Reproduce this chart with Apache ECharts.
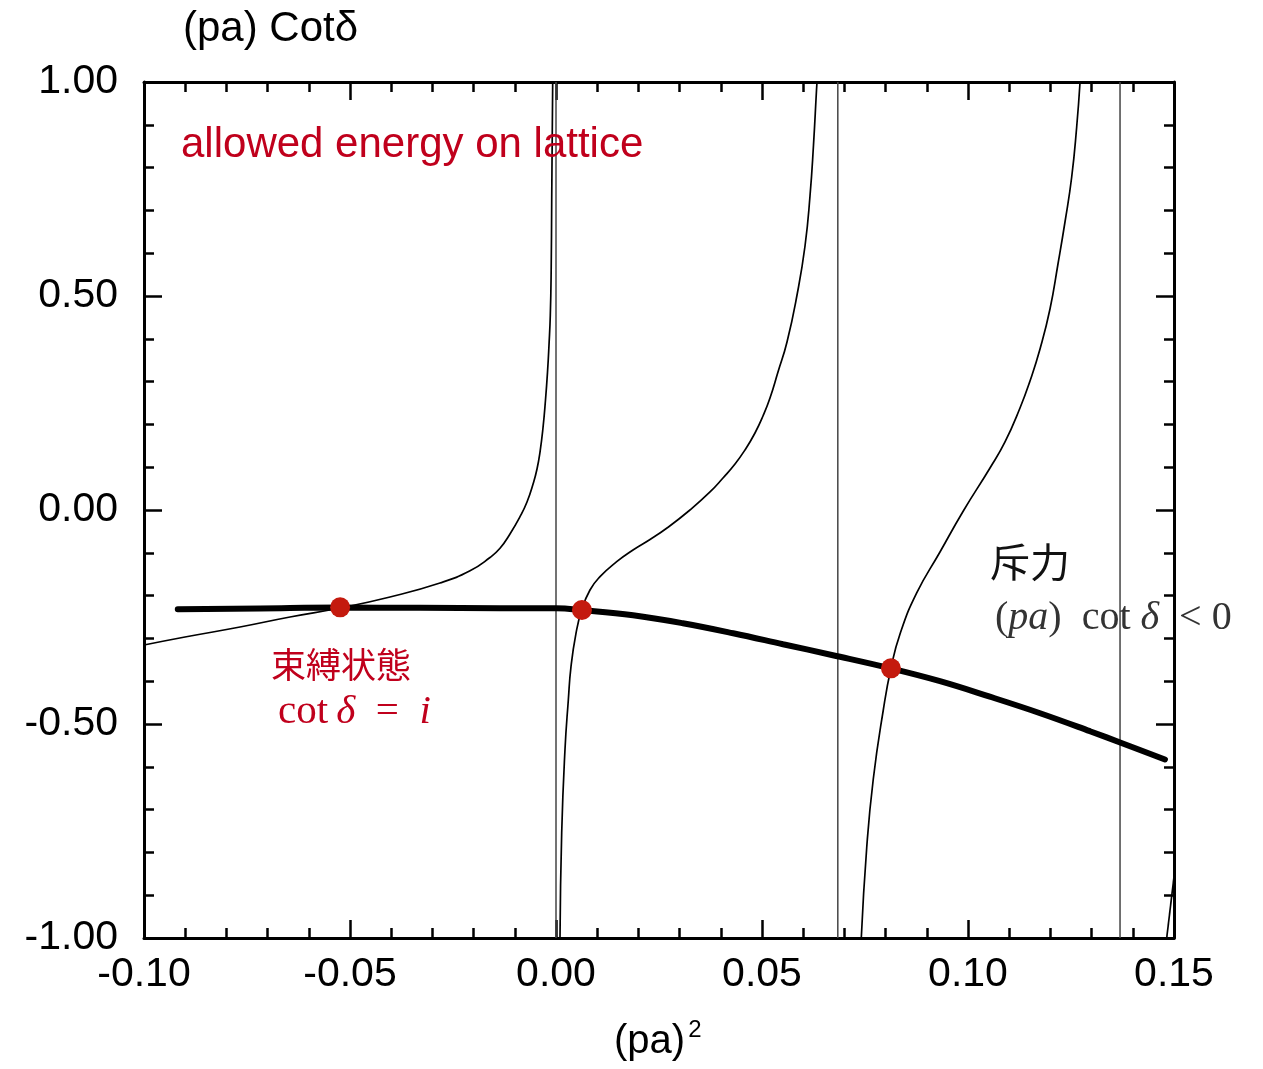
<!DOCTYPE html>
<html>
<head>
<meta charset="utf-8">
<script src="https://cdn.jsdelivr.net/npm/echarts@6/dist/echarts.min.js"></script>
<style>
  html, body { margin: 0; padding: 0; background: #fff; }
  #chart { width: 1263px; height: 1069px; }
</style>
</head>
<body>
<div id="chart"></div>
<script>
// ---- data ----
var xTicks = [-0.10, -0.05, 0.00, 0.05, 0.10, 0.15];
var yTicks = [-1.00, -0.50, 0.00, 0.50, 1.00];

// thin curve (Lüscher function), branch by branch: [x, y]
var branch1 = [
  [-0.10000, -0.3154], [-0.09005, -0.2967], [-0.07670, -0.2734], [-0.06456, -0.2500],
  [-0.05243, -0.2290], [-0.04029, -0.2033], [-0.02816, -0.1706], [-0.02087, -0.1420],
  [-0.01602, -0.1110], [-0.01359, -0.0895], [-0.01117, -0.0561], [-0.00874, -0.0157],
  [-0.00704, 0.0187], [-0.00551, 0.0624], [-0.00461, 0.0958], [-0.00388, 0.1355],
  [-0.00316, 0.1916], [-0.00255, 0.2570], [-0.00206, 0.3224], [-0.00170, 0.3855],
  [-0.00138, 0.4556], [-0.00117, 0.5607], [-0.00104, 0.7243], [-0.00092, 0.8645],
  [-0.00080, 1.0000]
];
var branch2 = [
  [0.00097, -1.0000], [0.00138, -0.7547], [0.00218, -0.5600], [0.00299, -0.4439],
  [0.00364, -0.3661], [0.00485, -0.2881], [0.00624, -0.2336], [0.00825, -0.1869],
  [0.01068, -0.1558], [0.01473, -0.1208], [0.01869, -0.0935], [0.02282, -0.0689],
  [0.02694, -0.0421], [0.03252, 0.0000], [0.03738, 0.0421], [0.04053, 0.0748],
  [0.04345, 0.1075], [0.04587, 0.1402], [0.04830, 0.1799], [0.05024, 0.2196],
  [0.05194, 0.2617], [0.05388, 0.3224], [0.05607, 0.3925], [0.05850, 0.5023],
  [0.06044, 0.6168], [0.06165, 0.7336], [0.06250, 0.8528], [0.06323, 0.9813],
  [0.06335, 1.0000]
];
var branch3 = [
  [0.07410, -1.0000], [0.07541, -0.7897], [0.07701, -0.6285], [0.07944, -0.4673],
  [0.08131, -0.3692], [0.08350, -0.2897], [0.08755, -0.1939], [0.09320, -0.0981],
  [0.09886, -0.0023], [0.10534, 0.0981], [0.10898, 0.1589], [0.11262, 0.2383],
  [0.11505, 0.3014], [0.11748, 0.3762], [0.11990, 0.4696], [0.12184, 0.5748],
  [0.12354, 0.6729], [0.12517, 0.7780], [0.12638, 0.8949], [0.12718, 0.9977]
];
var branch4 = [
  [0.14823, -1.000], [0.15000, -0.857]
];

// thick curve (effective range expansion)
var thickCurve = [
  [-0.0918, -0.232], [-0.0718, -0.230], [-0.0524, -0.228], [-0.0330, -0.2285],
  [-0.0136, -0.2293], [0.0000, -0.2297], [0.0063, -0.2339], [0.0187, -0.2458],
  [0.0308, -0.2645], [0.0430, -0.2879], [0.0551, -0.3136], [0.0672, -0.3393],
  [0.0813, -0.3703], [0.0932, -0.4000], [0.1053, -0.4362], [0.1175, -0.4748],
  [0.1296, -0.5168], [0.1374, -0.5449], [0.1478, -0.5829]
];

// free-particle energies (vertical lines)
var poles = [0.0000, 0.0684, 0.1369];

// crossing points (allowed energies)
var crossings = [[-0.0524, -0.2275], [0.0063, -0.2336], [0.0813, -0.3699]];

// texts
var yTitle = '(pa) Cotδ';
var redNote = 'allowed energy on lattice';
var boundLabel = '束縛状態';
var repLabel = '斥力';

// ---- chart ----
var chart = echarts.init(document.getElementById('chart'));

var thinStyle = { color: '#000', width: 1.7 };
function thinSeries(d) {
  return { type: 'line', data: d, showSymbol: false, symbol: 'none', smooth: 0.5,
           lineStyle: thinStyle, z: 3, silent: true, clip: true };
}
var poleSeries = poles.map(function (p) {
  return { type: 'line', data: [[p, -1], [p, 1]], symbol: 'none',
           lineStyle: { color: '#444', width: 1.5 }, z: 2, silent: true };
});

var tickFmt = function (v) { return v.toFixed(2); };
var labelFont = { fontFamily: 'Liberation Sans', fontSize: 41, color: '#000' };

var commonX = {
  type: 'value', min: -0.10, max: 0.15, interval: 0.05,
  axisLine: { show: true, onZero: false, lineStyle: { color: '#000', width: 3 } },
  axisTick: { show: true, inside: true, length: 18, lineStyle: { color: '#000', width: 2.5 } },
  minorTick: { show: true, splitNumber: 5, length: 10, lineStyle: { color: '#000', width: 2.5 } },
  splitLine: { show: false }, minorSplitLine: { show: false }
};
var commonY = {
  type: 'value', min: -1, max: 1, interval: 0.5,
  axisLine: { show: true, onZero: false, lineStyle: { color: '#000', width: 3 } },
  axisTick: { show: true, inside: true, length: 18, lineStyle: { color: '#000', width: 2.5 } },
  minorTick: { show: true, splitNumber: 5, length: 10, lineStyle: { color: '#000', width: 2.5 } },
  splitLine: { show: false }, minorSplitLine: { show: false }
};

var option = {
  backgroundColor: '#fff',
  animation: false,
  grid: { left: 144, right: 89, top: 82, bottom: 131, containLabel: false },
  xAxis: [
    Object.assign({}, commonX, { position: 'bottom',
      axisLabel: Object.assign({ show: true, margin: 16, formatter: tickFmt }, labelFont) }),
    Object.assign({}, commonX, { position: 'top', axisLabel: { show: false } })
  ],
  yAxis: [
    Object.assign({}, commonY, { position: 'left',
      axisLabel: Object.assign({ show: true, margin: 26, formatter: tickFmt }, labelFont) }),
    Object.assign({}, commonY, { position: 'right', axisLabel: { show: false } })
  ],
  series: [
    thinSeries(branch1), thinSeries(branch2), thinSeries(branch3), thinSeries(branch4)
  ].concat(poleSeries).concat([
    { type: 'line', data: thickCurve, symbol: 'none', smooth: 0.4,
      lineStyle: { color: '#000', width: 6, cap: 'round' }, z: 4, silent: true },
    { type: 'scatter', data: crossings, symbol: 'circle', symbolSize: 20,
      itemStyle: { color: '#c41a0e', opacity: 1 }, z: 6, silent: true }
  ]),
  graphic: [
    { type: 'text', left: 183, top: 8, z: 10,
      style: { text: yTitle, font: '42px "Liberation Sans"', fill: '#000' } },
    { type: 'text', left: 181, top: 124, z: 10,
      style: { text: redNote, font: '42px "Liberation Sans"', fill: '#c0001c' } },
    { type: 'text', left: 271, top: 647, z: 10,
      style: { text: boundLabel, font: '35px "Noto Sans CJK JP"', fill: '#c0001c' } },
    { type: 'text', left: 278, top: 692, z: 10,
      style: { text: '{n|cot\u2009}{i|δ}{n|\u2002=\u2002}{i|i}', fill: '#c0001c',
        rich: {
          n: { font: '41px "Liberation Serif"', fill: '#c0001c' },
          i: { font: 'italic 41px "Liberation Serif"', fill: '#c0001c' }
        } } },
    { type: 'text', left: 990, top: 542, z: 10,
      style: { text: repLabel, font: '40px "Noto Sans CJK JP"', fill: '#111' } },
    { type: 'text', left: 995, top: 598, z: 10,
      style: { text: '{n|(}{i|pa}{n|)\u2002cot }{i|δ}{n|\u2002< 0}', fill: '#333',
        rich: {
          n: { font: '40px "Liberation Serif"', fill: '#333' },
          i: { font: 'italic 40px "Liberation Serif"', fill: '#333' }
        } } },
    { type: 'text', left: 614, top: 1018, z: 10,
      style: { text: '(pa){s|2}', font: '40px "Liberation Sans"', fill: '#000',
        rich: { s: { font: '24px "Liberation Sans"', fill: '#000', verticalAlign: 'top', padding: [0, 0, 24, 3] } } } }
  ]
};
chart.setOption(option);
</script>
</body>
</html>
